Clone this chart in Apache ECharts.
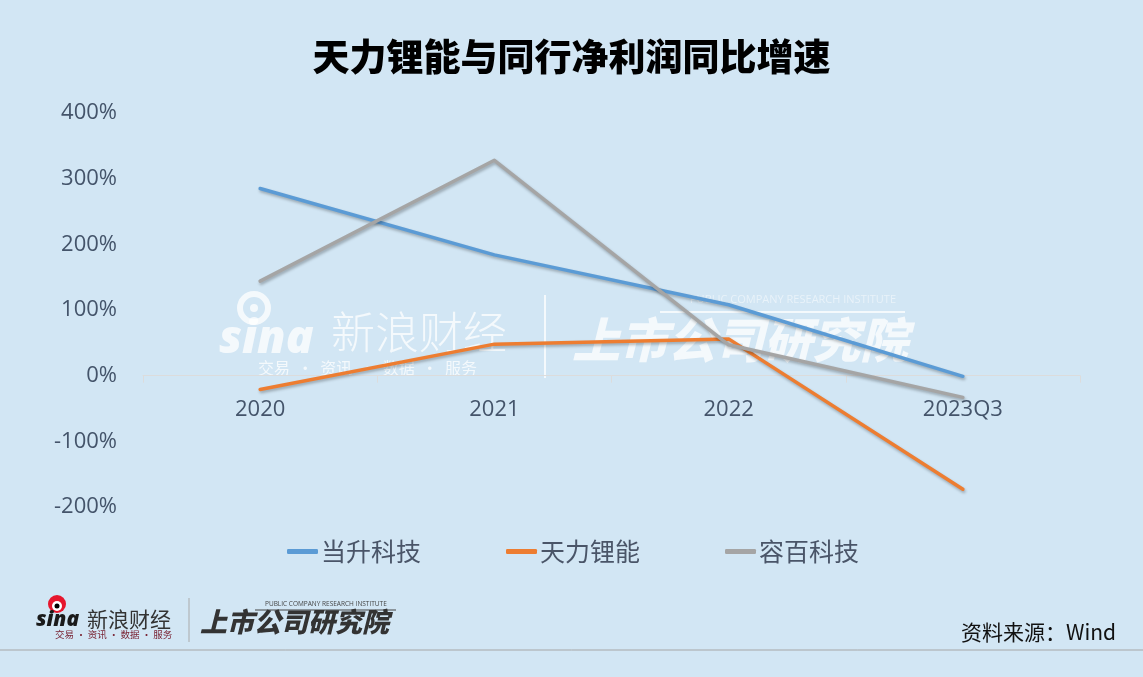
<!DOCTYPE html>
<html>
<head>
<meta charset="utf-8">
<script src="https://cdn.jsdelivr.net/npm/echarts@6/dist/echarts.min.js"></script>
<style>
html,body{margin:0;padding:0;background:#D2E6F4;}
#chart{width:1143px;height:677px;}
</style>
</head>
<body>
<div id="chart"></div>
<script>
var titleText = '天力锂能与同行净利润同比增速';
var categories = ['2020', '2021', '2022', '2023Q3'];
var seriesNames = ['当升科技', '天力锂能', '容百科技'];
var dangsheng = [285, 184, 108, -1];
var tianli = [-21, 48, 56, -173];
var rongbai = [144, 328, 47, -33];
var seriesColors = ['#5B9BD5', '#ED7D31', '#A5A5A5'];
var sourceText = '资料来源：Wind';

var font = '"Noto Sans CJK SC", "Open Sans", sans-serif';
var chart = echarts.init(document.getElementById('chart'));

function mkSeries(name, data, color) {
  return {
    name: name, type: 'line', data: data, showSymbol: false, symbol: 'none',
    z: 5,
    lineStyle: {
      width: 3.5, color: color, cap: 'round', join: 'round',
      shadowColor: 'rgba(0,0,0,0.28)', shadowBlur: 3, shadowOffsetX: 1, shadowOffsetY: 2
    },
    itemStyle: { color: color }
  };
}

var wm = 'rgba(255,255,255,0.75)';
chart.setOption({
  backgroundColor: '#D2E6F4',
  animation: false,
  title: {
    text: titleText, left: 'center', top: 33,
    textStyle: { fontFamily: font, fontSize: 37, fontWeight: 900, color: '#000' }
  },
  legend: {
    data: seriesNames, left: 282, top: 534, itemGap: 85, itemWidth: 31, itemHeight: 5,
    icon: 'roundRect',
    textStyle: { fontFamily: font, fontSize: 25, color: '#4A5568', padding: [0, 0, 0, -2] }
  },
  grid: { left: 143, right: 63, top: 113, bottom: 170, containLabel: false },
  xAxis: {
    type: 'category', data: categories, boundaryGap: true,
    axisLine: { onZero: true, lineStyle: { color: '#DCDCDC', width: 1 } },
    axisTick: { show: true, length: 7, lineStyle: { color: '#DCDCDC' } },
    axisLabel: { fontFamily: '"Open Sans", sans-serif', fontSize: 22, color: '#44546A', margin: -108 },
    splitLine: { show: false }
  },
  yAxis: {
    type: 'value', min: -200, max: 400, interval: 100,
    axisLine: { show: false }, axisTick: { show: false },
    splitLine: { show: false },
    axisLabel: { formatter: '{value}%', fontFamily: '"Open Sans", sans-serif', fontSize: 22, color: '#44546A', margin: 26 }
  },
  graphic: [
    // center watermark
    { type: 'group', z: 1, silent: true, children: [
      { type: 'circle', shape: { cx: 254, cy: 308, r: 14 }, style: { fill: 'none', stroke: wm, lineWidth: 6 } },
      { type: 'circle', shape: { cx: 254, cy: 308, r: 4 }, style: { fill: wm } },
      { type: 'text', x: 219, y: 340, style: { text: 'sina', font: 'italic 900 46px "Open Sans", sans-serif', fill: wm, verticalAlign: 'middle' } },
      { type: 'text', x: 331, y: 332, style: { text: '新浪财经', font: '300 44px "Noto Sans CJK SC"', fill: wm, verticalAlign: 'middle' } },
      { type: 'text', x: 258, y: 368, style: { text: '交易  ·  资讯  ·  数据  ·  服务', font: '16px "Noto Sans CJK SC"', fill: wm, verticalAlign: 'middle' } },
      { type: 'line', shape: { x1: 545, y1: 295, x2: 545, y2: 378 }, style: { stroke: wm, lineWidth: 2 } },
      { type: 'text', x: 690, y: 300, style: { text: 'PUBLIC COMPANY RESEARCH INSTITUTE', font: '11px "Open Sans"', fill: 'rgba(255,255,255,0.5)', verticalAlign: 'middle' } },
      { type: 'line', shape: { x1: 660, y1: 312, x2: 905, y2: 312 }, style: { stroke: wm, lineWidth: 2 } },
      { type: 'text', x: 572, y: 340, style: { text: '上市公司研究院', font: 'italic 900 48px "Noto Sans CJK SC"', fill: wm, verticalAlign: 'middle' } }
    ]},
    // bottom logo
    { type: 'group', z: 1, silent: true, children: [
      { type: 'circle', shape: { cx: 57, cy: 604, r: 9 }, style: { fill: '#E6162D' } },
      { type: 'circle', shape: { cx: 57, cy: 606, r: 5 }, style: { fill: '#fff' } },
      { type: 'circle', shape: { cx: 57, cy: 606, r: 2.5 }, style: { fill: '#000' } },
      { type: 'text', x: 36, y: 620, style: { text: 'sina', font: 'italic 900 21px "Open Sans", sans-serif', fill: '#1a1a1a', verticalAlign: 'middle' } },
      { type: 'text', x: 87, y: 619, style: { text: '新浪财经', font: '21px "Noto Sans CJK SC"', fill: '#333', verticalAlign: 'middle' } },
      { type: 'text', x: 55, y: 634, style: { text: '交易 · 资讯 · 数据 · 服务', font: '9.5px "Noto Sans CJK SC"', fill: '#7A2535', verticalAlign: 'middle' } },
      { type: 'line', shape: { x1: 189, y1: 598, x2: 189, y2: 642 }, style: { stroke: '#AAAAAA', lineWidth: 1 } },
      { type: 'text', x: 265, y: 604, style: { text: 'PUBLIC COMPANY RESEARCH INSTITUTE', font: '6.5px "Open Sans"', fill: '#444', verticalAlign: 'middle' } },
      { type: 'line', shape: { x1: 255, y1: 610, x2: 396, y2: 610 }, style: { stroke: '#444', lineWidth: 1 } },
      { type: 'text', x: 200, y: 622, style: { text: '上市公司研究院', font: 'italic 900 27px "Noto Sans CJK SC"', fill: '#333', verticalAlign: 'middle' } }
    ]},
    { type: 'line', z: 1, shape: { x1: 0, y1: 650, x2: 1143, y2: 650 }, style: { stroke: '#A6A6A6', lineWidth: 1 } },
    { type: 'text', z: 1, x: 1116, y: 632, style: { text: sourceText, font: '21px "Noto Sans CJK SC"', fill: '#111', align: 'right', verticalAlign: 'middle' } }
  ],
  series: [
    mkSeries(seriesNames[0], dangsheng, seriesColors[0]),
    mkSeries(seriesNames[1], tianli, seriesColors[1]),
    mkSeries(seriesNames[2], rongbai, seriesColors[2])
  ]
});
</script>
</body>
</html>
